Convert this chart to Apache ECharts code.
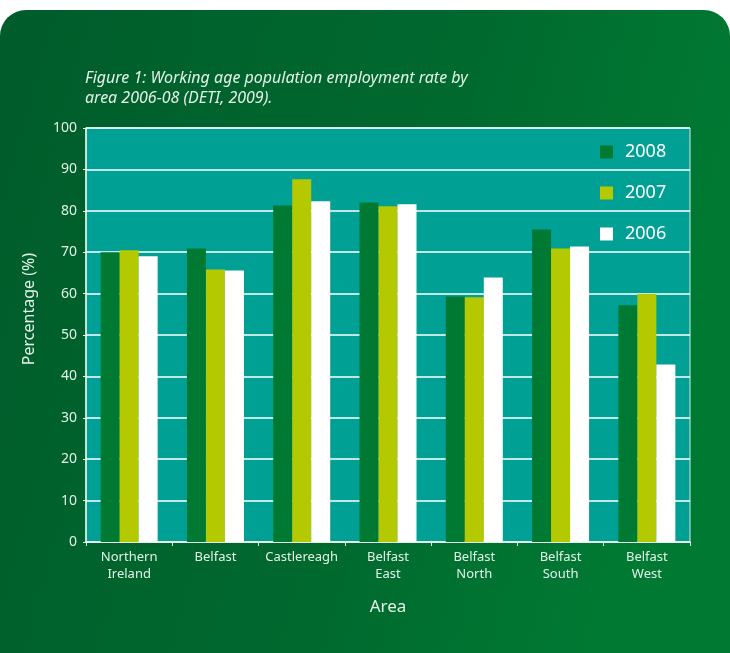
<!DOCTYPE html>
<html>
<head>
<meta charset="utf-8">
<style>
  html, body { margin: 0; padding: 0; background: #ffffff; }
  #chart { width: 730px; height: 653px; }
</style>
<script src="https://cdn.jsdelivr.net/npm/echarts@6/dist/echarts.min.js"></script>
</head>
<body>
<div id="chart"></div>
<script>
// Areas along the horizontal axis
const areas = ['Northern\nIreland', 'Belfast', 'Castlereagh', 'Belfast\nEast', 'Belfast\nNorth', 'Belfast\nSouth', 'Belfast\nWest'];

// Employment rate (%) by year
const rate2008 = [70.0, 70.9, 81.3, 82.0, 59.3, 75.5, 57.2];
const rate2007 = [70.5, 65.8, 87.6, 81.1, 59.1, 70.9, 59.9];
const rate2006 = [69.0, 65.6, 82.3, 81.6, 63.9, 71.4, 42.9];

const yTicks = [0, 10, 20, 30, 40, 50, 60, 70, 80, 90, 100];

const FONT = '"Noto Sans", "Open Sans", sans-serif';
const TEXT = '#e3f1e7';

const chart = echarts.init(document.getElementById('chart'), null, { renderer: 'canvas' });

chart.setOption({
  animation: false,
  backgroundColor: '#ffffff',
  textStyle: { fontFamily: FONT },
  graphic: [
    {
      type: 'rect',
      z: -10,
      silent: true,
      shape: { x: 0, y: 10, width: 730, height: 660, r: [26, 26, 0, 0] },
      style: {
        fill: new echarts.graphic.LinearGradient(0, 0, 1, 0.3, [
          { offset: 0, color: '#005c2b' },
          { offset: 0.6, color: '#00692e' },
          { offset: 1, color: '#007a33' }
        ])
      }
    },
    {
      type: 'text',
      x: 29, y: 309,
      rotation: Math.PI / 2,
      style: {
        text: 'Percentage (%)',
        fill: TEXT,
        font: '16px ' + FONT,
        align: 'center',
        verticalAlign: 'middle'
      }
    }
  ],
  title: {
    text: 'Figure 1: Working age population employment rate by\narea 2006-08 (DETI, 2009).',
    left: 85,
    top: 68,
    padding: [0, 0, 0, 0],
    textStyle: {
      color: TEXT,
      fontStyle: 'italic',
      fontWeight: 'normal',
      fontSize: 16,
      lineHeight: 20,
      fontFamily: FONT
    }
  },
  legend: {
    orient: 'vertical',
    left: 600,
    top: 143,
    padding: 0,
    itemWidth: 13,
    itemHeight: 13,
    itemGap: 23,
    icon: 'rect',
    textStyle: { color: '#ffffff', fontSize: 18, lineHeight: 18, padding: [0, 0, 0, 7], fontFamily: FONT },
    data: ['2008', '2007', '2006']
  },
  grid: {
    left: 86, right: 40, top: 128, bottom: 111,
    show: true,
    backgroundColor: '#00a094',
    borderColor: '#d6eee8',
    borderWidth: 1
  },
  xAxis: {
    type: 'category',
    data: areas,
    name: 'Area',
    nameLocation: 'middle',
    nameGap: 57,
    nameTextStyle: { color: TEXT, fontSize: 17, fontFamily: FONT },
    axisLine: { lineStyle: { color: '#e6f3ec', width: 1.5 } },
    axisTick: { show: true, length: 4, alignWithLabel: false, lineStyle: { color: '#e6f3ec' } },
    axisLabel: { color: TEXT, fontSize: 13, lineHeight: 17, margin: 7, interval: 0, fontFamily: FONT }
  },
  yAxis: {
    type: 'value',
    min: yTicks[0],
    max: yTicks[yTicks.length - 1],
    interval: 10,
    axisLine: { show: true, lineStyle: { color: '#e6f3ec', width: 1.5 } },
    axisTick: { show: true, length: 3, lineStyle: { color: '#e6f3ec' } },
    axisLabel: { color: TEXT, fontSize: 14, margin: 9, fontFamily: FONT },
    splitLine: { show: true, lineStyle: { color: '#ffffff', width: 1.5 } }
  },
  series: [
    { name: '2008', type: 'bar', data: rate2008, barWidth: 19, barGap: '0%', itemStyle: { color: '#007a33' } },
    { name: '2007', type: 'bar', data: rate2007, barWidth: 19, barGap: '0%', itemStyle: { color: '#b5c900' } },
    { name: '2006', type: 'bar', data: rate2006, barWidth: 19, barGap: '0%', itemStyle: { color: '#ffffff' } }
  ]
});
</script>
</body>
</html>
